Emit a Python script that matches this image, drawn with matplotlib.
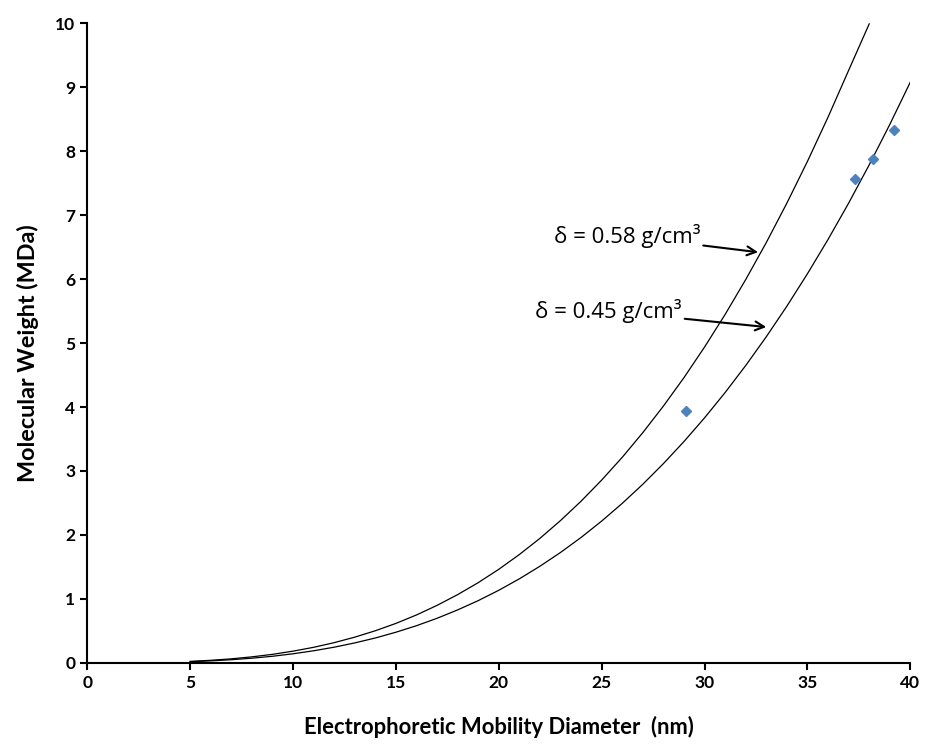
import numpy as np
import matplotlib.pyplot as plt

plt.rcParams['font.family'] = ['Lato', 'DejaVu Sans']

# model curves (MDa at each diameter, nm)
d_low = [5, 6, 7, 8, 9, 10, 11, 12, 13, 14, 15, 16, 17, 18, 19, 20, 21, 22,
         23, 24, 25, 26, 27, 28, 29, 30, 31, 32, 33, 34, 35, 36, 37, 38, 39, 40]
mw_low = [0.018, 0.031, 0.049, 0.073, 0.103, 0.142, 0.189, 0.245, 0.312, 0.389,
          0.479, 0.581, 0.697, 0.828, 0.973, 1.135, 1.314, 1.511, 1.726, 1.961,
          2.217, 2.494, 2.793, 3.115, 3.461, 3.831, 4.227, 4.649, 5.099, 5.577,
          6.084, 6.620, 7.187, 7.786, 8.417, 9.081]

d_high = [5, 6, 7, 8, 9, 10, 11, 12, 13, 14, 15, 16, 17, 18, 19, 20, 21, 22,
          23, 24, 25, 26, 27, 28, 29, 30, 31, 32, 33, 34, 35, 36, 37, 38]
mw_high = [0.023, 0.040, 0.063, 0.094, 0.133, 0.183, 0.243, 0.316, 0.402, 0.502,
           0.617, 0.749, 0.899, 1.067, 1.254, 1.463, 1.694, 1.947, 2.225, 2.528,
           2.858, 3.214, 3.600, 4.015, 4.460, 4.938, 5.448, 5.993, 6.572, 7.188,
           7.841, 8.532, 9.263, 9.990]

# measured points
d_meas = [29.1, 37.3, 38.2, 39.2]
mw_meas = [3.93, 7.56, 7.87, 8.33]

fig = plt.figure(figsize=(9.28, 7.49), dpi=100)
ax = fig.add_axes([0.094, 0.115, 0.887, 0.854])

ax.plot(d_high, mw_high, color='black', lw=0.9)
ax.plot(d_low, mw_low, color='black', lw=0.9)
ax.plot(d_meas, mw_meas, 'D', color='#4F81BD', markersize=5, lw=0)

arrow = dict(arrowstyle='->', color='black', lw=1.5, shrinkA=0, shrinkB=0)
ax.annotate('δ = 0.58 g/cm³', xy=(32.6, 6.42), xytext=(29.8, 6.67),
            ha='right', va='center', fontsize=16, family='Open Sans',
            arrowprops=arrow)
ax.annotate('δ = 0.45 g/cm³', xy=(33.0, 5.25), xytext=(28.9, 5.5),
            ha='right', va='center', fontsize=16, family='Open Sans',
            arrowprops=arrow)

ax.set_xlim(0, 40)
ax.set_ylim(0, 10)
ax.set_xticks(np.arange(0, 41, 5))
ax.set_yticks(np.arange(0, 11, 1))
for s in ['top', 'right']:
    ax.spines[s].set_visible(False)
for s in ['left', 'bottom']:
    ax.spines[s].set_linewidth(1.5)
ax.tick_params(direction='out', length=5, width=1.5, labelsize=12.5)
for lab in ax.get_xticklabels() + ax.get_yticklabels():
    lab.set_fontweight('bold')

ax.set_xlabel('Electrophoretic Mobility Diameter  (nm)', fontsize=15.8,
              fontweight='bold', labelpad=18)
ax.set_ylabel('Molecular Weight (MDa)', fontsize=16.8, fontweight='bold')
ax.yaxis.set_label_coords(-0.058, 0.484)

fig.savefig('out.png', dpi=100)
